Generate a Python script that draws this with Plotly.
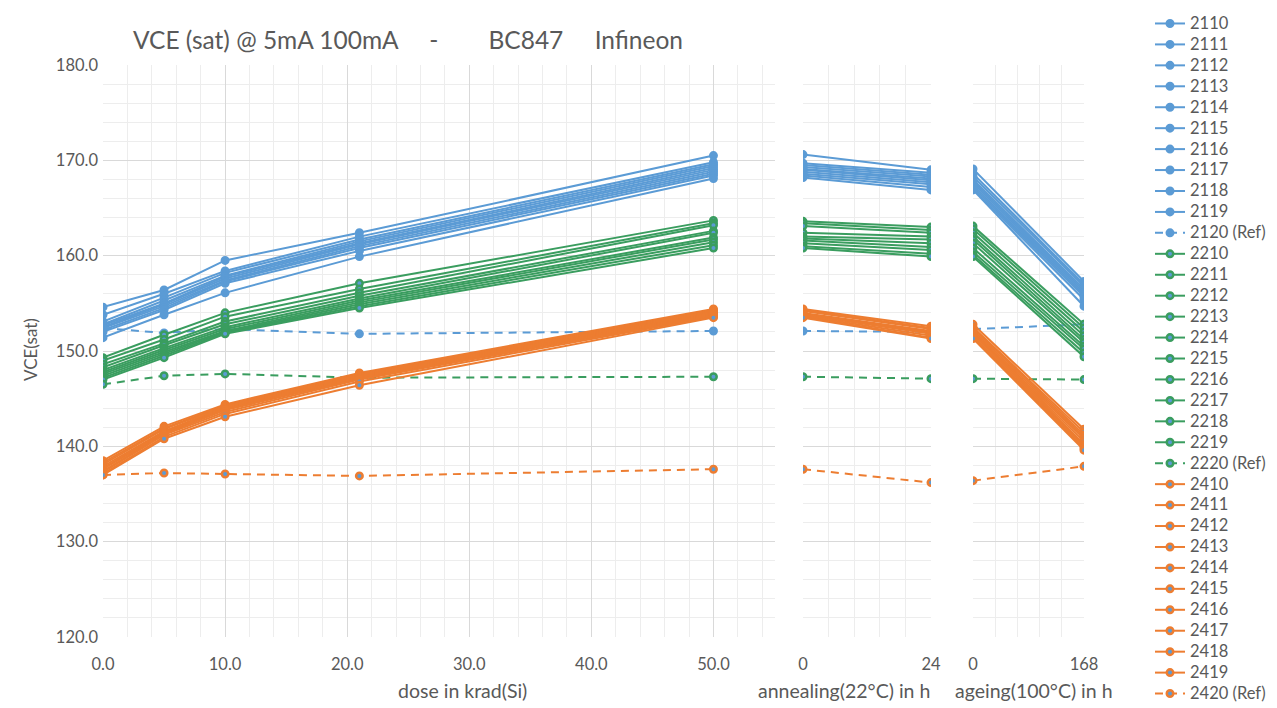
import plotly.graph_objects as go

# x positions per panel
dose = [0, 5, 10, 21, 50]
anneal = [0, 24]
ageing = [0, 168]

BLUE = "#5B9BD5"
GREEN = "#3A9D5F"
ORANGE = "#ED7D31"

# each row: [d0, d5, d10, d21, d50, a0, a24, g0, g168]
names_blue = ["2110", "2111", "2112", "2113", "2114", "2115", "2116", "2117", "2118", "2119"]
blue = [
    [154.6, 156.4, 159.5, 162.4, 170.5, 170.6, 169.0, 169.1, 157.3],
    [153.8, 156.0, 158.4, 162.0, 169.8, 169.7, 168.7, 168.6, 157.0],
    [153.1, 155.6, 158.2, 161.7, 169.6, 169.5, 168.5, 168.3, 156.8],
    [152.8, 155.3, 157.9, 161.5, 169.4, 169.3, 168.3, 168.0, 156.5],
    [152.7, 155.0, 157.8, 161.3, 169.2, 169.1, 168.1, 167.8, 156.3],
    [152.5, 154.9, 157.6, 161.2, 169.0, 169.0, 167.9, 167.6, 156.1],
    [152.4, 154.7, 157.4, 161.0, 168.8, 168.8, 167.7, 167.4, 155.9],
    [152.2, 154.5, 157.3, 160.8, 168.6, 168.6, 167.5, 167.2, 155.7],
    [152.0, 154.3, 157.1, 160.5, 168.4, 168.4, 167.2, 167.0, 155.4],
    [151.4, 153.8, 156.1, 159.9, 168.1, 168.2, 166.9, 166.9, 154.7],
]
blue_ref = [152.4, 151.9, 152.3, 151.8, 152.1, 152.1, 152.0, 152.3, 152.8]

names_green = ["2210", "2211", "2212", "2213", "2214", "2215", "2216", "2217", "2218", "2219"]
green = [
    [149.3, 151.7, 154.0, 157.1, 163.7, 163.6, 163.0, 163.1, 152.8],
    [149.0, 151.2, 153.6, 156.5, 163.4, 163.4, 162.7, 162.8, 152.4],
    [148.6, 150.8, 153.1, 156.1, 163.2, 163.1, 162.4, 162.4, 152.0],
    [148.3, 150.6, 152.8, 155.8, 162.6, 162.4, 162.0, 162.0, 151.6],
    [148.0, 150.3, 152.5, 155.5, 162.4, 162.0, 161.7, 161.7, 151.2],
    [147.8, 150.1, 152.3, 155.3, 161.9, 161.8, 161.3, 161.3, 150.9],
    [147.6, 149.9, 152.1, 155.1, 161.7, 161.6, 160.9, 160.8, 150.5],
    [147.4, 149.7, 152.0, 154.9, 161.4, 161.3, 160.6, 160.4, 150.2],
    [147.2, 149.5, 151.9, 154.7, 161.1, 161.0, 160.2, 160.1, 149.8],
    [147.0, 149.3, 151.8, 154.5, 160.8, 160.8, 159.9, 159.9, 149.4],
]
green_ref = [146.5, 147.4, 147.6, 147.2, 147.3, 147.3, 147.1, 147.1, 147.0]

names_orange = ["2410", "2411", "2412", "2413", "2414", "2415", "2416", "2417", "2418", "2419"]
orange = [
    [138.5, 142.1, 144.4, 147.7, 154.4, 154.4, 152.6, 152.8, 141.8],
    [138.3, 141.9, 144.3, 147.6, 154.3, 154.3, 152.4, 152.5, 141.5],
    [138.1, 141.8, 144.2, 147.5, 154.2, 154.2, 152.3, 152.4, 141.2],
    [137.9, 141.6, 144.1, 147.4, 154.1, 154.0, 152.1, 152.2, 141.0],
    [137.7, 141.5, 144.0, 147.3, 154.0, 153.9, 152.0, 152.0, 140.8],
    [137.6, 141.4, 143.9, 147.2, 153.9, 153.9, 151.9, 151.9, 140.5],
    [137.4, 141.3, 143.8, 147.1, 153.8, 153.8, 151.8, 151.8, 140.2],
    [137.3, 141.2, 143.6, 147.0, 153.7, 153.7, 151.6, 151.6, 140.0],
    [137.1, 141.0, 143.4, 146.8, 153.6, 153.6, 151.4, 151.4, 139.8],
    [137.0, 140.8, 143.1, 146.4, 153.5, 153.5, 151.3, 151.3, 139.6],
]
orange_ref = [137.0, 137.2, 137.1, 136.9, 137.6, 137.6, 136.2, 136.4, 137.9]

groups = [
    (names_blue, blue, "2120 (Ref)", blue_ref, BLUE),
    (names_green, green, "2220 (Ref)", green_ref, GREEN),
    (names_orange, orange, "2420 (Ref)", orange_ref, ORANGE),
]

fig = go.Figure()
FONT = "Lato, sans-serif"
TXT = "#595959"
W, H = 1277, 708
top, bottom = 65, 637
PH = bottom - top


def add_series(name, vals, color, dash):
    parts = [
        (dose, vals[0:5], "x", "y"),
        (anneal, vals[5:7], "x2", "y2"),
        (ageing, vals[7:9], "x3", "y3"),
    ]
    label = '<span style="font-size:16.5px">' + name + "</span>"
    for i, (xs, ys, xa, ya) in enumerate(parts):
        fig.add_trace(go.Scatter(
            x=xs, y=ys, xaxis=xa, yaxis=ya, name=label,
            legendgroup=name, showlegend=(i == 0),
            mode="lines+markers",
            line=dict(color=color, width=2, dash=dash),
            marker=dict(size=6.5, color=BLUE, line=dict(color=color, width=2.5)),
        ))


for names, data, refname, ref, color in groups:
    for n, v in zip(names, data):
        add_series(n, v, color, "solid")
    add_series(refname, ref, color, "8px,6px")

grid = "#D9D9D9"
mgrid = "#EDEDED"
TICKF = dict(family=FONT, size=16.5, color=TXT)

common_x = dict(showline=False, zeroline=False, showgrid=True, gridcolor=grid, gridwidth=1,
                ticks="", tickfont=TICKF, ticklabelstandoff=15, fixedrange=True)
common_y = dict(range=[120, 180], dtick=10, tick0=120, showline=False, zeroline=False,
                showgrid=True, gridcolor=grid, gridwidth=1, ticks="", fixedrange=True,
                minor=dict(dtick=2, showgrid=True, gridcolor=mgrid, gridwidth=1))


def px_x(p):
    return p / W


def px_y(p):
    return (bottom - p) / PH


AXT = dict(family=FONT, size=19.5, color=TXT)
annotations = [
    dict(text="dose in krad(Si)", x=px_x(463), y=px_y(690), xref="paper", yref="paper",
         showarrow=False, xanchor="center", yanchor="middle", font=AXT),
    dict(text="annealing(22°C) in h", x=px_x(844), y=px_y(690), xref="paper", yref="paper",
         showarrow=False, xanchor="center", yanchor="middle", font=AXT),
    dict(text="ageing(100°C) in h", x=px_x(1034), y=px_y(690), xref="paper", yref="paper",
         showarrow=False, xanchor="center", yanchor="middle", font=AXT),
    dict(text="VCE(sat)", x=px_x(30), y=px_y(350), xref="paper", yref="paper", textangle=-90,
         showarrow=False, xanchor="center", yanchor="middle", font=dict(family=FONT, size=17, color=TXT)),
]

sp = "\u00a0"
title_text = ("VCE" + sp + "(sat)" + sp + "@" + sp + "5mA" + sp + "100mA" + sp * 5 + "-"
              + sp * 8 + "BC847" + sp * 5 + "Infineon")

fig.update_layout(
    width=W, height=H,
    margin=dict(l=0, r=0, t=top, b=H - bottom, autoexpand=False),
    paper_bgcolor="white", plot_bgcolor="white",
    font=dict(family=FONT, color=TXT),
    title=dict(text=title_text,
               x=px_x(408), xanchor="center", xref="paper", y=1 - 40 / H, yanchor="middle", yref="container",
               font=dict(family=FONT, size=24.5, color=TXT)),
    xaxis=dict(common_x, domain=[103 / W, 774.5 / W], range=[0, 55], dtick=10, tick0=0,
               tickformat=".1f", minor=dict(dtick=2, tick0=0, showgrid=True, gridcolor=mgrid)),
    xaxis2=dict(common_x, domain=[803 / W, 931 / W], range=[0, 24], tickmode="array",
                tickvals=anneal, ticktext=["0", "24"],
                minor=dict(tickmode="linear", dtick=4.8, tick0=0, showgrid=True, gridcolor=mgrid)),
    xaxis3=dict(common_x, domain=[973 / W, 1084 / W], range=[0, 168], tickmode="array",
                tickvals=ageing, ticktext=["0", "168"],
                minor=dict(tickmode="linear", dtick=33.6, tick0=0, showgrid=True, gridcolor=mgrid)),
    yaxis=dict(common_y, anchor="x", tickformat=".1f", tickfont=TICKF, ticklabelstandoff=4),
    yaxis2=dict(common_y, anchor="x2", matches="y", showticklabels=False),
    yaxis3=dict(common_y, anchor="x3", matches="y", showticklabels=False),
    annotations=annotations,
    legend=dict(x=1150 / W, xanchor="left", xref="container", y=1 - 8 / H, yanchor="top",
                yref="container", font=dict(family=FONT, size=13.8, color=TXT),
                tracegroupgap=0, bgcolor="rgba(0,0,0,0)", itemwidth=30, maxheight=708),
    showlegend=True,
)

fig.write_html("out.html")
